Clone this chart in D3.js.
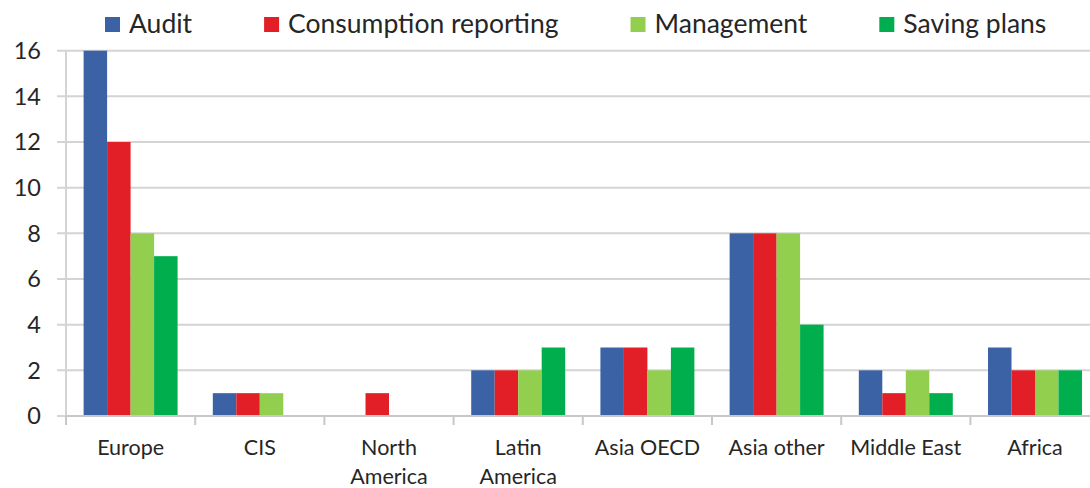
<!DOCTYPE html>
<html>
<head>
<meta charset="utf-8">
<script src="https://cdn.jsdelivr.net/npm/d3@7"></script>
<style>
  html, body { margin: 0; padding: 0; background: #fff; }
  svg { display: block; font-family: Lato, "Open Sans", sans-serif; }
</style>
</head>
<body>
<svg id="chart" width="1090" height="488"></svg>
<script>
const categories = ["Europe", "CIS", "North America", "Latin America", "Asia OECD", "Asia other", "Middle East", "Africa"];
const categoryLines = [["Europe"], ["CIS"], ["North", "America"], ["Latin", "America"], ["Asia OECD"], ["Asia other"], ["Middle East"], ["Africa"]];
const seriesNames = ["Audit", "Consumption reporting", "Management", "Saving plans"];
const audit = [16, 1, 0, 2, 3, 8, 2, 3];
const consumption = [12, 1, 1, 2, 3, 8, 1, 2];
const management = [8, 1, 0, 2, 2, 8, 2, 2];
const saving = [7, 0, 0, 3, 3, 4, 1, 2];
const yTicks = [0, 2, 4, 6, 8, 10, 12, 14, 16];
const colors = ["#3A62A5", "#E21F26", "#92CF4F", "#00AE4D"];

(function () {
const seriesValues = [audit, consumption, management, saving];

const svg = d3.select("#chart");
const mLeft = 66, mRight = 1099.6, mTop = 50.7, mBottom = 416;

const x0 = d3.scaleBand().domain(categories).range([mLeft, mRight]).padding(0);
const x1 = d3.scaleBand().domain(seriesNames).range([0, x0.bandwidth()]).paddingInner(0).paddingOuter(0.75);
const y = d3.scaleLinear().domain([0, 16]).range([mBottom, mTop]);
const color = d3.scaleOrdinal().domain(seriesNames).range(colors);

// gridlines
svg.append("g").selectAll("line").data(yTicks).join("line")
  .attr("x1", mLeft - 9).attr("x2", 1090)
  .attr("y1", d => y(d)).attr("y2", d => y(d))
  .attr("stroke", "#d4d4d4").attr("stroke-width", 2);

// y axis line
svg.append("line").attr("x1", mLeft).attr("x2", mLeft).attr("y1", mTop).attr("y2", mBottom + 9)
  .attr("stroke", "#d4d4d4").attr("stroke-width", 2);

// y tick labels
svg.append("g").selectAll("text").data(yTicks).join("text")
  .attr("x", 41).attr("y", d => y(d))
  .attr("dy", "0.36em")
  .attr("text-anchor", "end")
  .attr("font-size", 23.5)
  .attr("fill", "#262626")
  .text(d => d);

// bars
const data = [];
categories.forEach((c, i) => {
  seriesNames.forEach((s, j) => {
    data.push({ cat: c, series: s, value: seriesValues[j][i] });
  });
});
svg.append("g").selectAll("rect").data(data.filter(d => d.value > 0)).join("rect")
  .attr("x", d => x0(d.cat) + x1(d.series))
  .attr("width", x1.bandwidth())
  .attr("y", d => y(d.value))
  .attr("height", d => y(0) - y(d.value))
  .attr("fill", d => color(d.series));

// x axis line and ticks
svg.append("line").attr("x1", mLeft).attr("x2", 1090).attr("y1", mBottom).attr("y2", mBottom)
  .attr("stroke", "#c8c8c8").attr("stroke-width", 2);
const boundaries = categories.map(c => x0(c));
svg.append("g").selectAll("line").data(boundaries).join("line")
  .attr("x1", d => d).attr("x2", d => d)
  .attr("y1", mBottom).attr("y2", mBottom + 9)
  .attr("stroke", "#c8c8c8").attr("stroke-width", 2);

// category labels
const lab = svg.append("g").selectAll("text").data(categories).join("text")
  .attr("text-anchor", "middle")
  .attr("font-size", 21.5)
  .attr("fill", "#262626")
  .attr("transform", d => `translate(${x0(d) + x0.bandwidth() / 2},0)`);
lab.each(function(d, i) {
  const t = d3.select(this);
  categoryLines[i].forEach((line, k) => {
    t.append("tspan").attr("x", 0).attr("y", 455 + k * 29).text(line);
  });
});

// legend
const lg = svg.append("g");
let lx = 105;
seriesNames.forEach((s, i) => {
  lg.append("rect").attr("x", lx).attr("y", 17).attr("width", 15).attr("height", 15).attr("fill", colors[i]);
  const t = lg.append("text").attr("x", lx + 24).attr("y", 33)
    .attr("font-size", 26.5).attr("fill", "#262626").text(s);
  const w = t.node().getComputedTextLength();
  lx = lx + 24 + w + 72;
});
})();
</script>
</body>
</html>
